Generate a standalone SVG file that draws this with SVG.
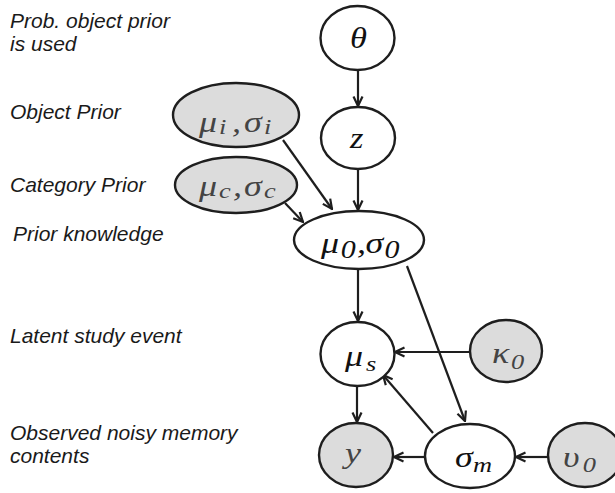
<svg xmlns="http://www.w3.org/2000/svg" width="615" height="493" viewBox="0 0 615 493">
<style>
.lbl{font-family:"Liberation Sans",Arial,sans-serif;font-style:italic;font-size:21px;fill:#1a1a1a}
.n{stroke:#1e1e1e;stroke-width:2.4;fill:#fff}
.g{fill:#dcdcdc}
.m{font-family:"Liberation Serif","Times New Roman",serif;font-style:italic;font-size:30px;fill:#111}
.mg{fill:#444}
.sub{font-size:22px}
.sub0{font-size:25px}
.e{stroke:#1e1e1e;stroke-width:2.2;fill:none;marker-end:url(#ah)}
</style>
<defs>
<marker id="ah" viewBox="0 0 12 12" refX="11" refY="6" markerWidth="12" markerHeight="12" markerUnits="userSpaceOnUse" orient="auto">
<path d="M1.5,1.5 L11,6 L1.5,10.5" fill="none" stroke="#1e1e1e" stroke-width="2.2"/>
</marker>
</defs>
<rect width="615" height="493" fill="#fff"/>
<g id="labels">
<text class="lbl" x="10" y="28">Prob. object prior</text>
<text class="lbl" x="10" y="51">is used</text>
<text class="lbl" x="10" y="119">Object Prior</text>
<text class="lbl" x="10" y="192">Category Prior</text>
<text class="lbl" x="13" y="241">Prior knowledge</text>
<text class="lbl" x="10" y="343">Latent study event</text>
<text class="lbl" x="10" y="440">Observed noisy memory</text>
<text class="lbl" x="10" y="463">contents</text>
</g>
<g id="connectors">
<line class="e" x1="358" y1="70" x2="358" y2="106"/>
<line class="e" x1="358" y1="169" x2="358" y2="210"/>
<line class="e" x1="283" y1="140" x2="332" y2="209"/>
<line class="e" x1="285" y1="203" x2="303" y2="222"/>
<line class="e" x1="358" y1="269" x2="358" y2="321"/>
<line class="e" x1="407" y1="266" x2="465" y2="421"/>
<line class="e" x1="470" y1="352" x2="395" y2="352"/>
<line class="e" x1="433" y1="433" x2="383" y2="375"/>
<line class="e" x1="357" y1="386" x2="357" y2="422"/>
<line class="e" x1="425" y1="457" x2="394" y2="457"/>
<line class="e" x1="548" y1="457" x2="516" y2="457"/>
</g>
<g id="theta">
<ellipse class="n" cx="357.5" cy="38" rx="37" ry="32"/>
<text class="m" transform="matrix(1.15 0 0 1 350 0)" x="0" y="48">θ</text>
</g>
<g id="z">
<ellipse class="n" cx="358" cy="138" rx="37" ry="31"/>
<text class="m" transform="matrix(1.15 0 0 1 350 0)" x="0" y="148">z</text>
</g>
<g id="mu_i">
<ellipse class="n g" cx="236" cy="115" rx="63" ry="32"/>
<text class="m mg" transform="matrix(1.2 0 0 1 199 0)" y="132"><tspan x="0">μ</tspan><tspan class="sub" x="16.7" dy="2">i</tspan><tspan x="27.5" dy="-2">,</tspan><tspan x="37.5">σ</tspan><tspan class="sub" x="54.2" dy="2">i</tspan></text>
</g>
<g id="mu_c">
<ellipse class="n g" cx="236" cy="185" rx="61" ry="28"/>
<text class="m mg" transform="matrix(1.2 0 0 1 199 0)" y="196"><tspan x="0">μ</tspan><tspan class="sub" x="16.7" dy="2">c</tspan><tspan x="28.3" dy="-2">,</tspan><tspan x="37.5">σ</tspan><tspan class="sub" x="54.2" dy="2">c</tspan></text>
</g>
<g id="mu0">
<ellipse class="n" cx="359" cy="240" rx="65" ry="29"/>
<text class="m" transform="matrix(1.2 0 0 1 321 0)" y="253"><tspan x="0">μ</tspan><tspan class="sub0" x="16.5" dy="5">0</tspan><tspan x="30" dy="-5">,</tspan><tspan x="37">σ</tspan><tspan class="sub0" x="53" dy="5">0</tspan></text>
</g>
<g id="mu_s">
<ellipse class="n" cx="357.5" cy="354" rx="37" ry="32"/>
<text class="m" transform="matrix(1.2 0 0 1 345 0)" y="366"><tspan x="0">μ</tspan><tspan class="sub" x="17.5" dy="5">s</tspan></text>
</g>
<g id="kappa0">
<ellipse class="n g" cx="506" cy="351" rx="36" ry="31"/>
<text class="m mg" transform="matrix(1.2 0 0 1 492 0)" y="363"><tspan x="0">κ</tspan><tspan class="sub" x="15.8" dy="6">0</tspan></text>
</g>
<g id="y">
<ellipse class="n g" cx="356" cy="455" rx="37" ry="32"/>
<text class="m mg" transform="matrix(1.2 0 0 1 345 0)" x="0" y="463">y</text>
</g>
<g id="sigma_m">
<ellipse class="n" cx="470" cy="456" rx="45" ry="32"/>
<text class="m" transform="matrix(1.2 0 0 1 455 0)" y="467"><tspan x="0">σ</tspan><tspan class="sub" x="15" dy="5">m</tspan></text>
</g>
<g id="upsilon0">
<ellipse class="n g" cx="585" cy="455" rx="37" ry="32"/>
<text class="m mg" transform="matrix(1.2 0 0 1 563 0)" y="467"><tspan x="0">υ</tspan><tspan class="sub" x="16.5" dy="5">0</tspan></text>
</g>
</svg>
